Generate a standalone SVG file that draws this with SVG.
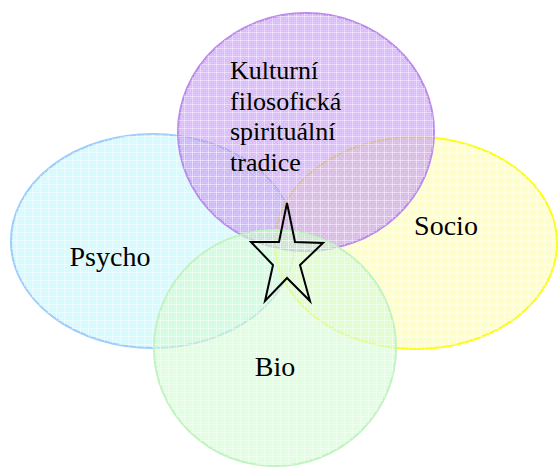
<svg xmlns="http://www.w3.org/2000/svg" width="558" height="468" viewBox="0 0 558 468">
<style>
.grid{fill:url(#grid);stroke:none}
.lbl{fill:#000;font-family:'Liberation Serif','Times New Roman','DejaVu Serif',serif}
</style>
<defs>
<pattern id="grid" width="8" height="8" patternUnits="userSpaceOnUse">
<path d="M0 0.5H8M0.5 0V8" stroke="#fff" stroke-width="1" stroke-opacity="0.45"/>
<path d="M2 2h1v1h-1zM6 2h1v1h-1zM2 6h1v1h-1zM6 6h1v1h-1zM4 4h1v1h-1z" fill="#fff" fill-opacity="0.4"/>
</pattern>
</defs>
<rect width="558" height="468" fill="#fff"/>
<g id="psycho">
<ellipse cx="153" cy="241" rx="142" ry="107" fill="#b8f8ff" fill-opacity="0.6" stroke="#99ccff" stroke-width="2"/>
<ellipse class="grid" cx="153" cy="241" rx="142" ry="107"/>
<text class="lbl" x="110" y="266" font-size="28" text-anchor="middle">Psycho</text>
</g>
<g id="socio">
<ellipse cx="416" cy="243" rx="141" ry="106" fill="#ffff99" fill-opacity="0.6" stroke="#ffff00" stroke-width="2"/>
<ellipse class="grid" cx="416" cy="243" rx="141" ry="106"/>
<text class="lbl" x="446" y="235" font-size="28" text-anchor="middle">Socio</text>
</g>
<g id="kulturni">
<ellipse cx="306" cy="132" rx="128" ry="119" fill="#c590fa" fill-opacity="0.6" stroke="#bb88ee" stroke-width="2"/>
<ellipse class="grid" cx="306" cy="132" rx="128" ry="119"/>
<text class="lbl" font-size="26"><tspan x="230" y="79">Kulturní</tspan><tspan x="230" y="110">filosofická</tspan><tspan x="230" y="140">spirituální</tspan><tspan x="230" y="171">tradice</tspan></text>
</g>
<g id="bio">
<ellipse cx="275" cy="348" rx="121" ry="118" fill="#ccffcc" fill-opacity="0.6" stroke="#bbf5bb" stroke-width="2"/>
<ellipse class="grid" cx="275" cy="348" rx="121" ry="118"/>
<text class="lbl" x="275" y="376" font-size="28" text-anchor="middle">Bio</text>
</g>
<g id="star">
<polygon points="287,203 295,242 323,243 300,265 310,301 287,278 265,301 273,265 251,242 279,242" fill="none" stroke="#000" stroke-width="2" stroke-linejoin="miter"/>
</g>
<g id="connectors"/>
</svg>
